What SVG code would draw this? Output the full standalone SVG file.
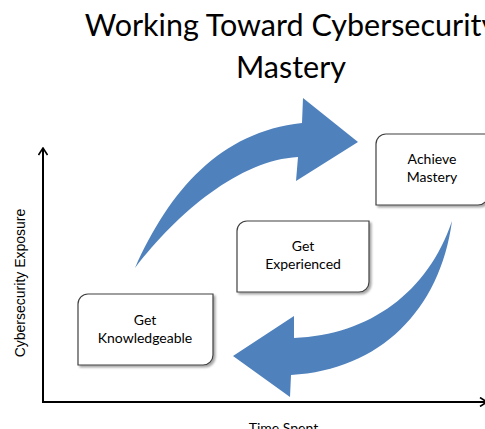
<svg xmlns="http://www.w3.org/2000/svg" width="485" height="429" viewBox="0 0 485 429">
<style>
.title{font-family:Lato,"Open Sans","Liberation Sans",sans-serif;font-size:30.5px;fill:#000;text-anchor:middle}
.box{fill:#fff;stroke:#404040;stroke-width:1.2;filter:url(#sh)}
.lbl{font-family:Lato,"Open Sans","Liberation Sans",sans-serif;font-size:14px;fill:#000;text-anchor:middle}
.axis{stroke:#000;stroke-width:2;fill:none}
.big{fill:#4F81BD}
</style>
<defs>
<filter id="sh" x="-10%" y="-10%" width="130%" height="130%">
<feDropShadow dx="2" dy="2" stdDeviation="1" flood-color="#000" flood-opacity="0.35"/>
</filter>
<marker id="open" viewBox="0 0 10 10" refX="9" refY="5" markerWidth="10" markerHeight="10" markerUnits="userSpaceOnUse" orient="auto">
<path d="M2,0.5 L9,5 L2,9.5" fill="none" stroke="#000" stroke-width="1.6"/>
</marker>
</defs>
<rect width="485" height="429" fill="#fff"/>
<text class="title" x="291" y="36">Working Toward Cybersecurity</text>
<text class="title" x="291" y="78">Mastery</text>
<g id="connectors">
<path class="axis" d="M43,402 V148" marker-end="url(#open)"/>
<path class="axis" d="M42,402 H487" marker-end="url(#open)"/>
<path id="arrow-up" class="big" d="M135,268 C170,190 220,132 302,123 L303,98 L358,142 L296,181 L298,157 C240,160 178,212 135,268 Z"/>
<path id="arrow-down" class="big" d="M452,221 C440,310 380,370 291,375 L290,397 L233,356 L294,316 L294,338 C370,335 428,292 452,221 Z"/>
</g>
<text font-family="Liberation Sans, Arial, sans-serif" font-size="14" fill="#000" text-anchor="middle" transform="translate(25,283) rotate(-90)">Cybersecurity Exposure</text>
<text class="lbl" x="283.5" y="433">Time Spent</text>
<g id="get-knowledgeable">
<path class="box" d="M88,294 H213 V355 A10,10 0 0 1 203,365 H78 V304 A10,10 0 0 1 88,294 Z"/>
<text class="lbl" x="145" y="325">Get</text>
<text class="lbl" x="145" y="343">Knowledgeable</text>
</g>
<g id="get-experienced">
<path class="box" d="M247,221 H369 V282 A10,10 0 0 1 359,292 H237 V231 A10,10 0 0 1 247,221 Z"/>
<text class="lbl" x="303" y="251">Get</text>
<text class="lbl" x="303" y="269">Experienced</text>
</g>
<g id="achieve-mastery">
<path class="box" d="M386,134 H488 V195 A10,10 0 0 1 478,205 H376 V144 A10,10 0 0 1 386,134 Z"/>
<text class="lbl" x="432" y="164">Achieve</text>
<text class="lbl" x="432" y="182">Mastery</text>
</g>
</svg>
